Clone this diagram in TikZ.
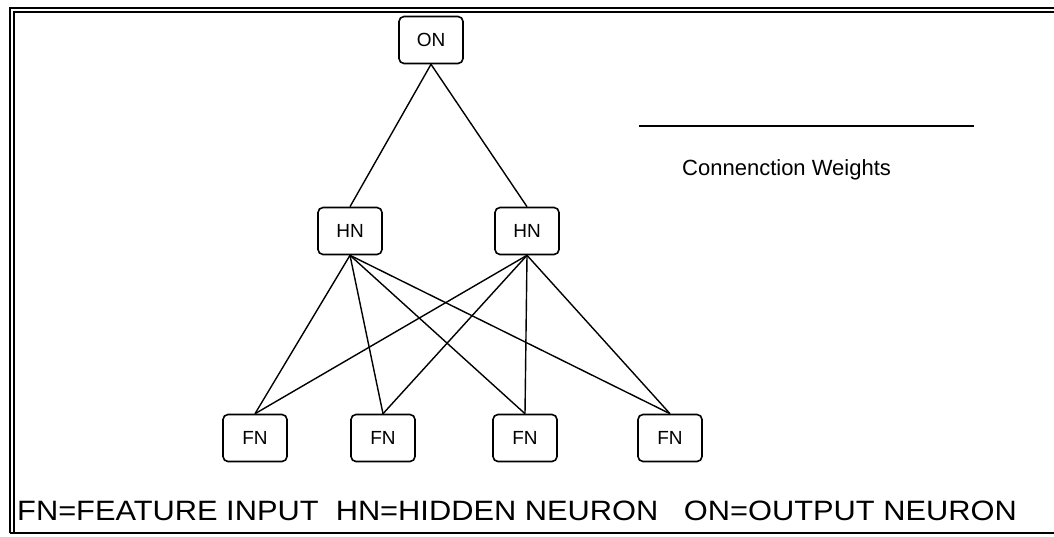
\documentclass[tikz,border=0pt]{standalone}
\usepackage{fontspec}
\setmainfont{Liberation Sans}
\newfontfamily\keyfont[FakeStretch=1.1]{Liberation Sans}
\begin{document}
\begin{tikzpicture}[x=1pt,y=-1pt,
  neuron/.style={draw, line width=1.6pt, rounded corners=5pt,
    minimum width=64pt, minimum height=47pt, inner sep=0pt,
    font=\fontsize{19}{19}\selectfont},
  link/.style={line width=1.4pt},
  frame/.style={line width=2pt}]
\useasboundingbox (0,0) rectangle (1054,536);

% page frame: double rule on top and left, single rule at the bottom
\draw[frame] (1054,8) -- (10,8) -- (10,533);
\draw[frame] (1054,12) -- (14,12) -- (14,533);
\draw[frame] (10,533) -- (1054,533);

% neurons
\node[neuron] (on)  at (431,40)  {ON};
\node[neuron] (hn1) at (350,231) {HN};
\node[neuron] (hn2) at (527,231) {HN};
\node[neuron] (fn1) at (255,438) {FN};
\node[neuron] (fn2) at (383,438) {FN};
\node[neuron] (fn3) at (525,438) {FN};
\node[neuron] (fn4) at (670,438) {FN};

% connection weights
\draw[link] (on.south) -- (hn1.north);
\draw[link] (on.south) -- (hn2.north);
\foreach \f in {fn1,fn2,fn3,fn4}{
  \draw[link] (hn1.south) -- (\f.north);
  \draw[link] (hn2.south) -- (\f.north);
}

% legend
\coordinate (wa) at (639,126);
\coordinate (wb) at (974,126);
\draw[line width=1.6pt] (wa) -- (wb);
\node[anchor=base west, inner sep=0pt, font=\fontsize{22}{22}\selectfont]
  (cw) at (682,175) {Connenction Weights};

% key
\node[anchor=base west, inner sep=0pt, font=\keyfont\fontsize{28}{28}\selectfont]
  (key) at (17,520) {FN=FEATURE INPUT\ \ HN=HIDDEN NEURON\ \ \ ON=OUTPUT NEURON};
\end{tikzpicture}
\end{document}
